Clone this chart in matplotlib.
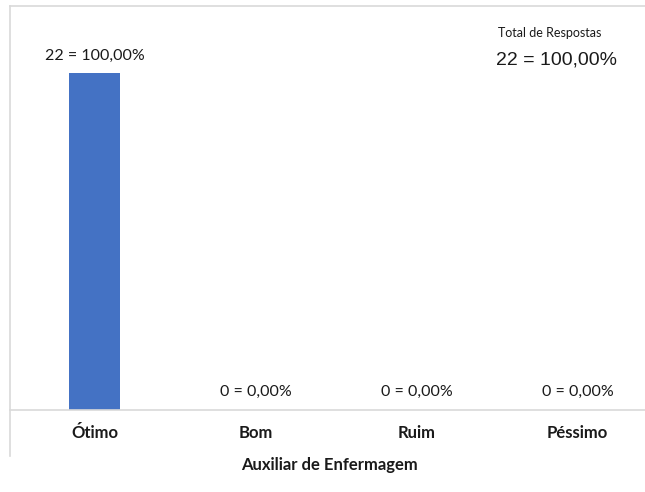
import matplotlib
matplotlib.use("Agg")
import matplotlib.pyplot as plt
from matplotlib.lines import Line2D

categories = ["Ótimo", "Bom", "Ruim", "Péssimo"]
counts = [22, 0, 0, 0]
labels = ["22 = 100,00%", "0 = 0,00%", "0 = 0,00%", "0 = 0,00%"]
xlabel = "Auxiliar de Enfermagem"
total_title = "Total de Respostas"
total_text = "22 = 100,00%"

plt.rcParams['font.family'] = ['Lato', 'DejaVu Sans']

fig = plt.figure(figsize=(6.45, 4.92), dpi=100)
W, H = 645, 492
ax = fig.add_axes([14 / W, (H - 410) / H, (645 - 14) / W, (410 - 6) / H])
x = list(range(len(categories)))
ax.bar(x, counts, width=0.32, color="#4472C4")
ax.set_xlim(-0.5, -0.5 + 631 / 161)
ax.set_ylim(0, 22 * 404 / 337)
for xi, c, lab in zip(x, counts, labels):
    ax.annotate(lab, (xi, c), xytext=(0, 7 if c > 0 else 8), textcoords="offset points",
                ha="center", va="bottom", fontsize=11.5, color="#1a1a1a")
ax.set_xticks(x)
ax.set_xticklabels(categories, fontsize=12, fontweight="bold", color="#1a1a1a")
ax.tick_params(axis="x", length=0, pad=11)
ax.set_yticks([])
for s in ax.spines.values():
    s.set_visible(False)
ax.set_xlabel(xlabel, fontsize=12, fontweight="bold", color="#1a1a1a", labelpad=11)

gray = "#d9d9d9"
fig.add_artist(Line2D([10 / W, 1], [(H - 6) / H] * 2, color=gray, lw=1.2))
fig.add_artist(Line2D([10 / W] * 2, [(H - 6) / H, (H - 456) / H], color=gray, lw=1.2))
fig.add_artist(Line2D([10 / W, 1], [(H - 410) / H] * 2, color=gray, lw=1.2))

fig.text(550 / W, (H - 33) / H, total_title, ha="center", va="center", fontsize=9, color="#1a1a1a")
fig.text(556 / W, (H - 60) / H, total_text, ha="center", va="center", fontsize=14,
         family="Liberation Sans", color="#1a1a1a")

fig.savefig("out.png", dpi=100)
